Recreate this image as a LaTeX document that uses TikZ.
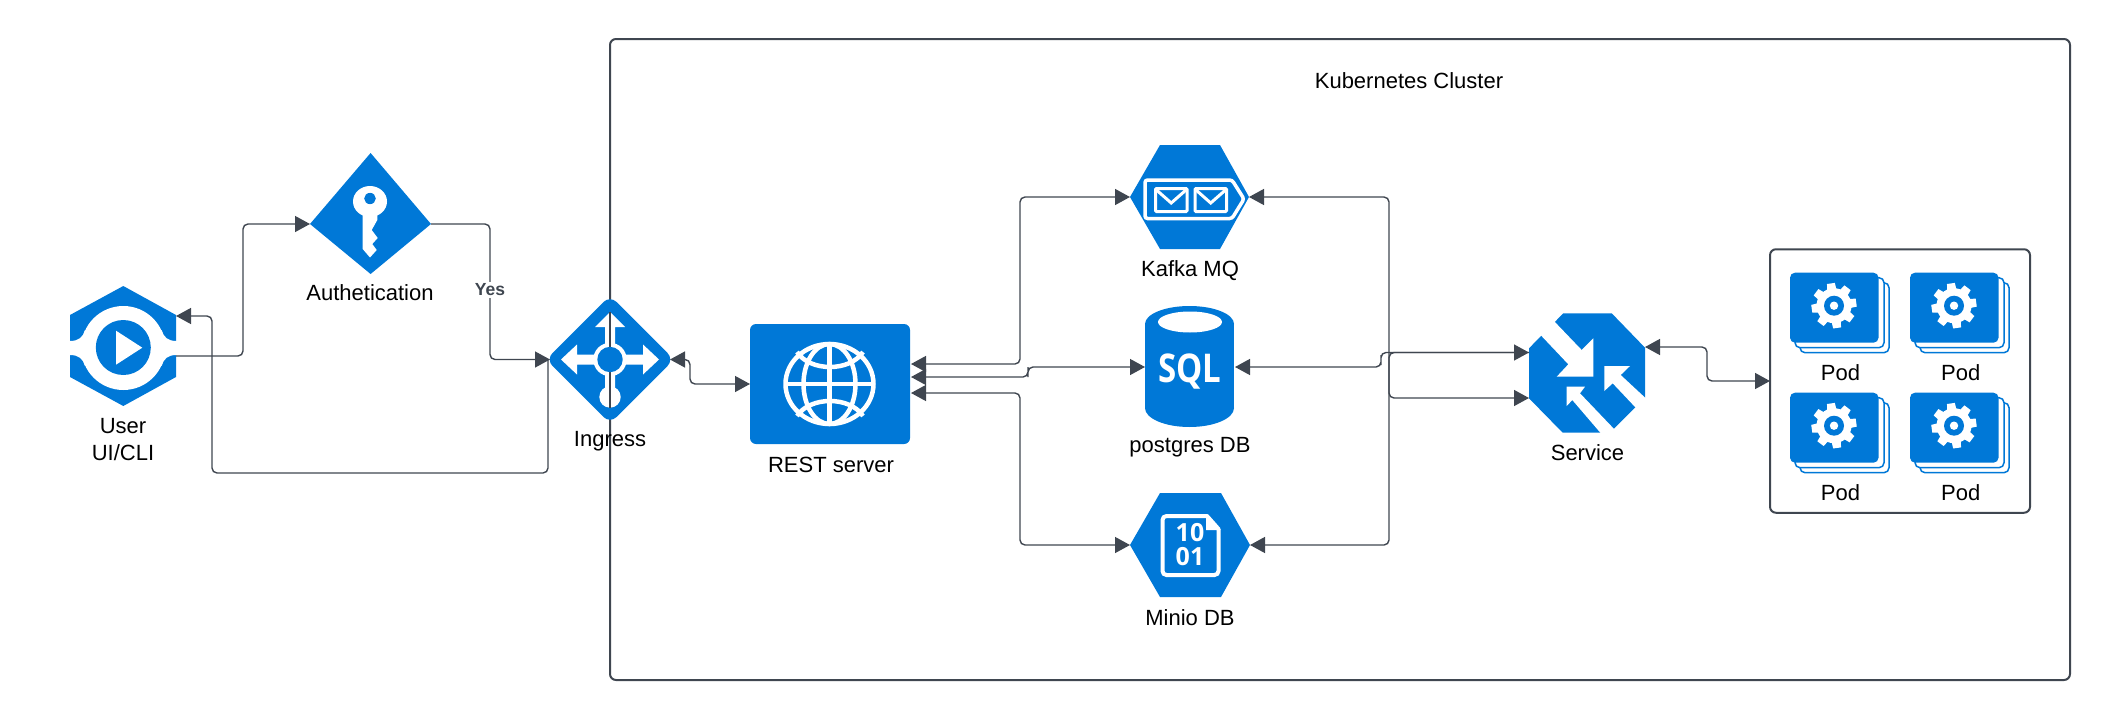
\documentclass[tikz,border=0pt]{standalone}
\usepackage{fontspec}
\setmainfont{Liberation Sans}
\newfontfamily\iconfont{Open Sans}
\usetikzlibrary{arrows.meta,calc}
\definecolor{azure}{HTML}{0078D7}
\definecolor{ink}{HTML}{3F4650}
\tikzset{
  x=1pt,y=-1pt,
  conn/.style={draw=ink,line width=1.4pt,rounded corners=5pt,-{Triangle[length=15pt,width=16pt]}},
  connboth/.style={conn,{Triangle[length=15pt,width=16pt]}-{Triangle[length=15pt,width=16pt]}},
  lab/.style={font=\fontsize{22}{26}\selectfont,text=black,inner sep=0pt,align=center},
  hub/.style={inner sep=0pt,outer sep=0pt,minimum height=20pt},
  wline/.style={draw=white,line width=#1},
  frame/.style={draw=ink,line width=2pt,inner sep=0pt,outer sep=0pt,rounded corners=6pt},
  podicon/.pic={
    \draw[azure,fill=white,line width=1.5pt,rounded corners=5pt] (10,10) rectangle (99,80);
    \draw[azure,fill=white,line width=1.5pt,rounded corners=5pt] (5,5) rectangle (94,75);
    \fill[azure,rounded corners=5pt] (0,0) rectangle (88.5,70);
    \begin{scope}[shift={(44,33)}]
      \fill[white] (0,0) circle (17.5pt);
      \foreach \a in {-8,-53,-98,-143,-188,-233,-278,-323}
        \fill[white] (\a-17:16) -- (\a-10:22.8) -- (\a+10:22.8) -- (\a+17:16) -- cycle;
      \fill[azure] (0,0) circle (10pt);
      \fill[white] (0,0) circle (4.2pt);
    \end{scope}
  }
}
\begin{document}
\begin{tikzpicture}
\useasboundingbox (0,0) rectangle (2110,720);

% cluster frame
\node[frame,minimum width=1460pt,minimum height=641pt] (cluster) at (1340,359.5) {};
\node[lab] (clusterlabel) at (1409,80.5) {Kubernetes Cluster};

% hubs used as connector ends
\node[hub,minimum width=106pt] (user) at (123,346) {};
\node[hub,minimum width=121pt] (auth) at (370.5,224) {};
\node[hub,minimum width=120pt] (ingress) at (610,359.5) {};
\node[hub,minimum width=119pt] (kafka) at (1189.5,197) {};
\node[hub,minimum width=90pt] (postgres) at (1190,367) {};
\node[hub,minimum width=120pt] (minio) at (1190,545) {};
\coordinate (userA) at (176,356);
\coordinate (userB) at (176,316);
\coordinate (inB) at (548,360);
\coordinate (rest1) at (911,364);
\coordinate (rest2) at (911,377);
\coordinate (rest3) at (911,393);
\coordinate (svcA) at (1529,352.5);
\coordinate (svcB) at (1529,398);
\coordinate (svcC) at (1645,347);

% User icon
\fill[azure] (123.3,286) -- (176,315) -- (176,377) -- (123.3,406) -- (70,377) -- (70,315) -- cycle;
\fill[white] (123.3,348) circle (42pt);
\fill[white] (69,341) rectangle (177,355);
\foreach \sx/\sy in {0/0,1/0,0/1,1/1}{
  \fill[white] ({\sx==0 ? 70 : 176.6},{\sy==0 ? 341 : 355})
    .. controls ({\sx==0 ? 79 : 167.6},{\sy==0 ? 341 : 355}) and ({\sx==0 ? 83 : 163.6},{\sy==0 ? 337 : 359})
    .. ({\sx==0 ? 85 : 161.6},{\sy==0 ? 330 : 366}) -- ({\sx==0 ? 100 : 146.6},{\sy==0 ? 341 : 355}) -- cycle;
}
\fill[azure] (123.3,347.5) circle (27.5pt);
\fill[white] (116,330.7) -- (142.3,347.7) -- (116,364.7) -- cycle;

% Auth icon
\fill[azure] (370.6,153) -- (431,224) -- (370.6,274) -- (310,224) -- cycle;
\fill[white] (370,201.5) ellipse (17pt and 15.5pt);
\fill[white] (362.7,205) -- (362.7,249) -- (370,257.5) -- (376.7,250) -- (372.3,244) -- (377.7,238) -- (371.7,230) -- (377.3,220) -- (377.3,205) -- cycle;
\fill[azure] (370,198.5) ellipse (5.8pt and 5.6pt);

% Ingress icon
\fill[azure,rounded corners=9pt] (610,295.5) -- (674,359.5) -- (610,423.5) -- (546,359.5) -- cycle;
\fill[white] (561,359.5) -- (577,344.5) -- (577,354.5) -- (643,354.5) -- (643,344.5) -- (659,359.5) -- (643,374.5) -- (643,364.5) -- (577,364.5) -- (577,374.5) -- cycle;
\fill[white] (610,312) -- (625,327) -- (615,327) -- (615,390) -- (605,390) -- (605,327) -- (595,327) -- cycle;
\fill[white] (610,359.5) circle (16.7pt);
\fill[white] (610,397) circle (10.7pt);
\draw[ink,line width=2pt] (610,312) -- (610,408);
\fill[azure] (610,359.5) circle (12.7pt);
\node[lab] (useName) at (123,426.5) {User};
\node[lab] (userName2) at (123,453) {UI/CLI};
\node[lab] (authName) at (370,293) {Authetication};
\node[lab] (ingressName) at (610,441) {Ingress};

% REST server
\node[fill=azure,rounded corners=6pt,inner sep=0pt,outer sep=0pt,minimum width=160pt,minimum height=120pt] (rest) at (830,384) {};
\begin{scope}[wline=4.5pt]
  \draw (829.5,384) ellipse (44pt and 40pt);
  \draw (829.5,384) ellipse (26pt and 40pt);
  \draw (829.5,344) -- (829.5,424);
  \draw (786,384) -- (873,384);
  \draw (797,352) .. controls (810,372) and (850,372) .. (863,352);
  \draw (797,416) .. controls (810,396) and (850,396) .. (863,416);
\end{scope}
\node[lab] (restName) at (831,464.5) {REST server};

% Kafka icon
\fill[azure] (1130,197) -- (1160,145) -- (1220,145) -- (1249,197) -- (1220,249) -- (1160,249) -- cycle;
\draw[wline=3.5pt,rounded corners=2.5pt] (1145,180) -- (1232,180) -- (1244,199) -- (1232,218.5) -- (1145,218.5) -- cycle;
\foreach \ex in {1155.5,1195}{
  \draw[wline=3pt,rounded corners=1pt] (\ex,188.5) rectangle ++(31.5,23);
  \draw[wline=3pt] (\ex+1,190) -- (\ex+15.7,203) -- (\ex+30.5,190);
}
\node[lab] (kafkaName) at (1190,271) {Kafka MQ};

% Postgres icon
\fill[azure] (1189.5,324) ellipse (44.5pt and 18pt);
\fill[azure] (1189.5,408) ellipse (44.5pt and 19pt);
\fill[azure] (1145,324) rectangle (1234,408);
\fill[white] (1190,322) ellipse (32pt and 10.5pt);
\node[inner sep=0pt,text=white,font={\iconfont\bfseries\fontsize{33}{36}\selectfont}] (sqlText) at (1190,372) {\scalebox{1}[1.2]{SQL}};
\node[lab] (postgresName) at (1190,447) {postgres DB};

% Minio icon
\fill[azure] (1130,545) -- (1160,493) -- (1221,493) -- (1250,545) -- (1221,597) -- (1160,597) -- cycle;
\draw[wline=4pt,rounded corners=4pt] (1218.5,529) -- (1218.5,575) -- (1162.5,575) -- (1162.5,516) -- (1207,516);
\draw[wline=4pt,line cap=round] (1207,516) -- (1218.5,529);
\fill[white] (1206,515) -- (1219,530) -- (1206,530) -- cycle;
\node[inner sep=0pt,text=white,font={\iconfont\bfseries\fontsize{25}{27}\selectfont}] (minioTop) at (1190,533) {10};
\node[inner sep=0pt,text=white,font={\iconfont\bfseries\fontsize{25}{27}\selectfont}] (minioBottom) at (1190,557) {01};
\node[lab] (minioName) at (1190,618) {Minio DB};

% Service icon
\fill[azure] (1529,348.3) -- (1563.3,313.3) -- (1611.7,313.3) -- (1645,347.7) -- (1645,397.7) -- (1610,432.7) -- (1562.7,432.7) -- (1529,398.3) -- cycle;
\fill[white] (1552,319) -- (1581.7,350) -- (1593.3,338.3) -- (1593.3,376.7) -- (1556.7,376.7) -- (1568.3,364.3) -- (1538.7,333) -- cycle;
\fill[white] (1566.7,386.7) -- (1585,386.7) -- (1580,393.3) -- (1616,431) -- (1604,437) -- (1572.3,400) -- (1566.7,406) -- cycle;
\fill[white] (1604.3,366) -- (1630,366) -- (1620.7,375) -- (1646,398.5) -- (1635.7,407.7) -- (1612.7,383.3) -- (1604.3,391) -- cycle;
\node[lab] (serviceName) at (1587.5,453) {Service};

% Pods
\node[frame,minimum width=260pt,minimum height=263.5pt] (podbox) at (1900,381) {};
\pic (podA) at (1790,272.7) {podicon};
\pic (podB) at (1910,272.7) {podicon};
\pic (podC) at (1790,392.7) {podicon};
\pic (podD) at (1910,392.7) {podicon};
\node[lab] (podNameA) at (1840.5,373) {Pod};
\node[lab] (podNameB) at (1960.7,373) {Pod};
\node[lab] (podNameC) at (1840.5,493) {Pod};
\node[lab] (podNameD) at (1960.7,493) {Pod};

% Connectors
\coordinate (v1) at (243,290);
\coordinate (v2) at (490,300);
\coordinate (v3) at (212,400);
\coordinate (v3b) at (548,473);
\coordinate (v4) at (690,370);
\coordinate (v5) at (1020,280);
\coordinate (v6) at (1028,372);
\coordinate (v7) at (1020,470);
\coordinate (v8) at (1381,360);
\coordinate (v9) at (1389,300);
\coordinate (v10) at (1389,450);
\coordinate (v11) at (1707,365);

\draw[conn] (userA) -| (v1) |- (auth.west);
\draw[conn] (auth.east) -| (v2) |- (ingress.west);
\draw[conn] (inB) -- (v3b) -| (v3) |- (userB);
\draw[connboth] (ingress.east) -| (v4) |- (rest.west);
\draw[connboth] (rest1) -| (v5) |- (kafka.west);
\draw[connboth] (rest2) -| (v6) |- (postgres.west);
\draw[connboth] (rest3) -| (v7) |- (minio.west);
\draw[conn] (svcA) -| (v8) |- (postgres.east);
\draw[connboth] (kafka.east) -| (v9) |- (svcB);
\draw[connboth] (minio.east) -| (v10) |- (svcA);
\draw[connboth] (svcC) -| (v11) |- (podbox.west);
\node[font=\bfseries\fontsize{17.5}{20}\selectfont,text=ink,fill=white,inner sep=2pt] (yes) at (490,290) {Yes};
\end{tikzpicture}
\end{document}
